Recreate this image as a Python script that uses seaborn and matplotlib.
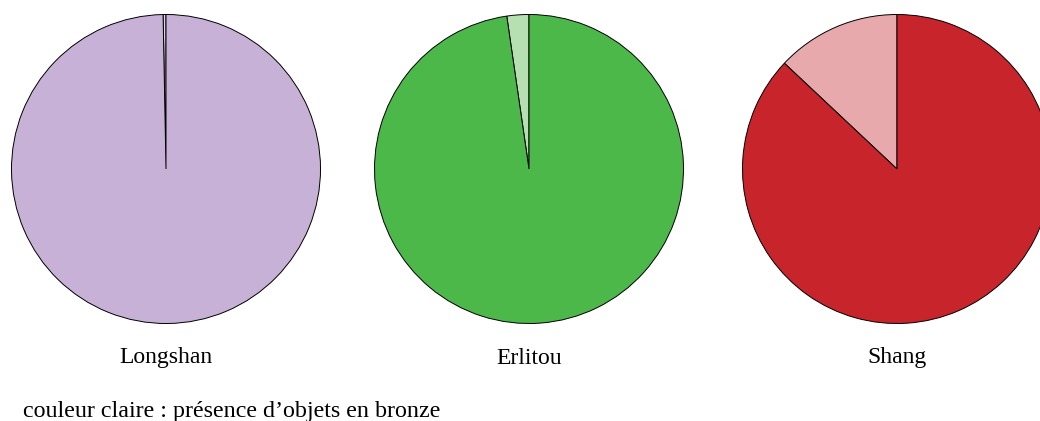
import matplotlib
matplotlib.use("Agg")
import matplotlib.pyplot as plt
import seaborn as sns

# share of sites with bronze objects (light colour) vs. without
periods = ["Longshan", "Erlitou", "Shang"]
bronze = [0.3, 2.3, 13.0]
no_bronze = [99.7, 97.7, 87.0]
dark_colors = ["#c8b1d6", "#4db84a", "#c8242c"]
light_colors = ["#e2d5ea", "#b7e0b2", "#e8a9ad"]
note = "couleur claire : présence d\u2019objets en bronze"

sns.set_style("white")
plt.rcParams["font.family"] = ["Liberation Serif", "DejaVu Serif"]
plt.rcParams["text.color"] = "black"

W, H = 1040, 421
fig = plt.figure(figsize=(W / 100, H / 100), dpi=100)

centers_x = [166, 529, 897]
cy = 169
r = 154.5
for i, name in enumerate(periods):
    ax = fig.add_axes([(centers_x[i] - r) / W, (H - cy - r) / H, 2 * r / W, 2 * r / H])
    ax.pie([bronze[i], no_bronze[i]],
           colors=[light_colors[i], dark_colors[i]],
           startangle=90, counterclock=True,
           wedgeprops=dict(edgecolor="black", linewidth=0.7))
    ax.set_xlim(-1, 1)
    ax.set_ylim(-1, 1)
    ax.set_aspect("equal")
    ax.axis("off")
    fig.text(centers_x[i] / W, 1 - 358 / H, name, ha="center", va="center", fontsize=17)

fig.text(23 / W, 1 - 411 / H, note, ha="left", va="center", fontsize=17.3)

fig.savefig("out.png", dpi=100)
